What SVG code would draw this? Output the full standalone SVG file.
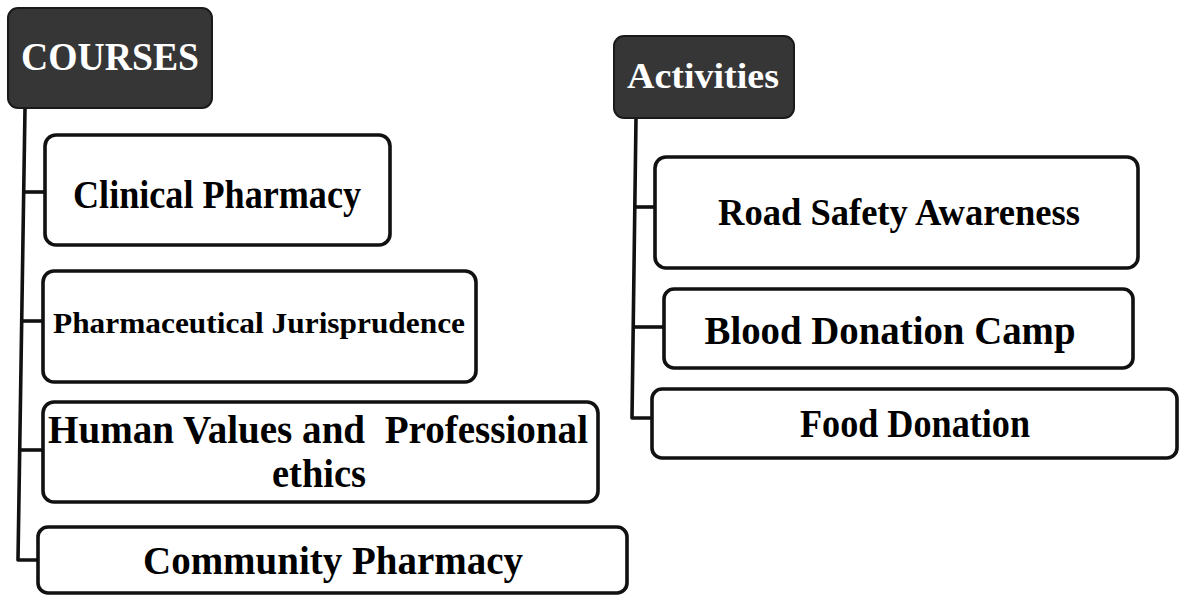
<svg xmlns="http://www.w3.org/2000/svg" width="1179" height="600" viewBox="0 0 1179 600">
  <style>
    .head { fill: #363636; stroke: #1a1a1a; stroke-width: 2; }
    .box { fill: #ffffff; stroke: #111111; stroke-width: 3.6; }
    .wire { fill: none; stroke: #111111; stroke-width: 3.6; stroke-linejoin: round; }
    .ht { font-family: "Liberation Serif", "Times New Roman", serif; font-weight: bold; fill: #ffffff; text-anchor: middle; }
    .t { font-family: "Liberation Serif", "Times New Roman", serif; font-weight: bold; fill: #000000; text-anchor: middle; }
  </style>
  <rect width="1179" height="600" fill="#ffffff"/>

  <!-- connectors: trunk from each header with branches to its items -->
  <g id="connectors">
    <path class="wire" d="M25,108 L18,560 L38,560"/>
    <path class="wire" d="M24.5,192 L45,192"/>
    <path class="wire" d="M22.5,321 L43,321"/>
    <path class="wire" d="M20.5,450 L43,450"/>
    <path class="wire" d="M636,118 L632,418 L652,418"/>
    <path class="wire" d="M634.5,207 L655,207"/>
    <path class="wire" d="M633.5,327 L664,327"/>
  </g>

  <!-- left column: courses -->
  <g id="courses">
    <rect class="head" x="8" y="8" width="204" height="100" rx="10"/>
    <text class="ht" x="110" y="70" font-size="39" textLength="178" lengthAdjust="spacingAndGlyphs">COURSES</text>
  </g>
  <g id="clinical-pharmacy">
    <rect class="box" x="45" y="135" width="345" height="110" rx="11"/>
    <text class="t" x="217" y="208" font-size="39" textLength="288" lengthAdjust="spacingAndGlyphs">Clinical Pharmacy</text>
  </g>
  <g id="pharmaceutical-jurisprudence">
    <rect class="box" x="43" y="271" width="433" height="111" rx="11"/>
    <text class="t" x="259" y="333" font-size="30" textLength="412" lengthAdjust="spacingAndGlyphs">Pharmaceutical Jurisprudence</text>
  </g>
  <g id="human-values">
    <rect class="box" x="43" y="402" width="555" height="100" rx="11"/>
    <text class="t" x="318" y="443" font-size="41" textLength="540" lengthAdjust="spacingAndGlyphs" xml:space="preserve">Human Values and  Professional</text>
    <text class="t" x="319" y="487" font-size="41" textLength="94" lengthAdjust="spacingAndGlyphs">ethics</text>
  </g>
  <g id="community-pharmacy">
    <rect class="box" x="38" y="527" width="589" height="66" rx="10"/>
    <text class="t" x="333" y="574" font-size="41" textLength="380" lengthAdjust="spacingAndGlyphs">Community Pharmacy</text>
  </g>

  <!-- right column: activities -->
  <g id="activities">
    <rect class="head" x="614" y="36" width="180" height="82" rx="10"/>
    <text class="ht" x="703" y="88" font-size="35" textLength="152" lengthAdjust="spacingAndGlyphs">Activities</text>
  </g>
  <g id="road-safety">
    <rect class="box" x="655" y="157" width="483" height="111" rx="11"/>
    <text class="t" x="899" y="225" font-size="38" textLength="362" lengthAdjust="spacingAndGlyphs">Road Safety Awareness</text>
  </g>
  <g id="blood-donation">
    <rect class="box" x="664" y="289" width="469" height="79" rx="10"/>
    <text class="t" x="890" y="344" font-size="39" textLength="371" lengthAdjust="spacingAndGlyphs">Blood Donation Camp</text>
  </g>
  <g id="food-donation">
    <rect class="box" x="652" y="389" width="525" height="69" rx="10"/>
    <text class="t" x="915" y="437" font-size="39" textLength="230" lengthAdjust="spacingAndGlyphs">Food Donation</text>
  </g>
</svg>
